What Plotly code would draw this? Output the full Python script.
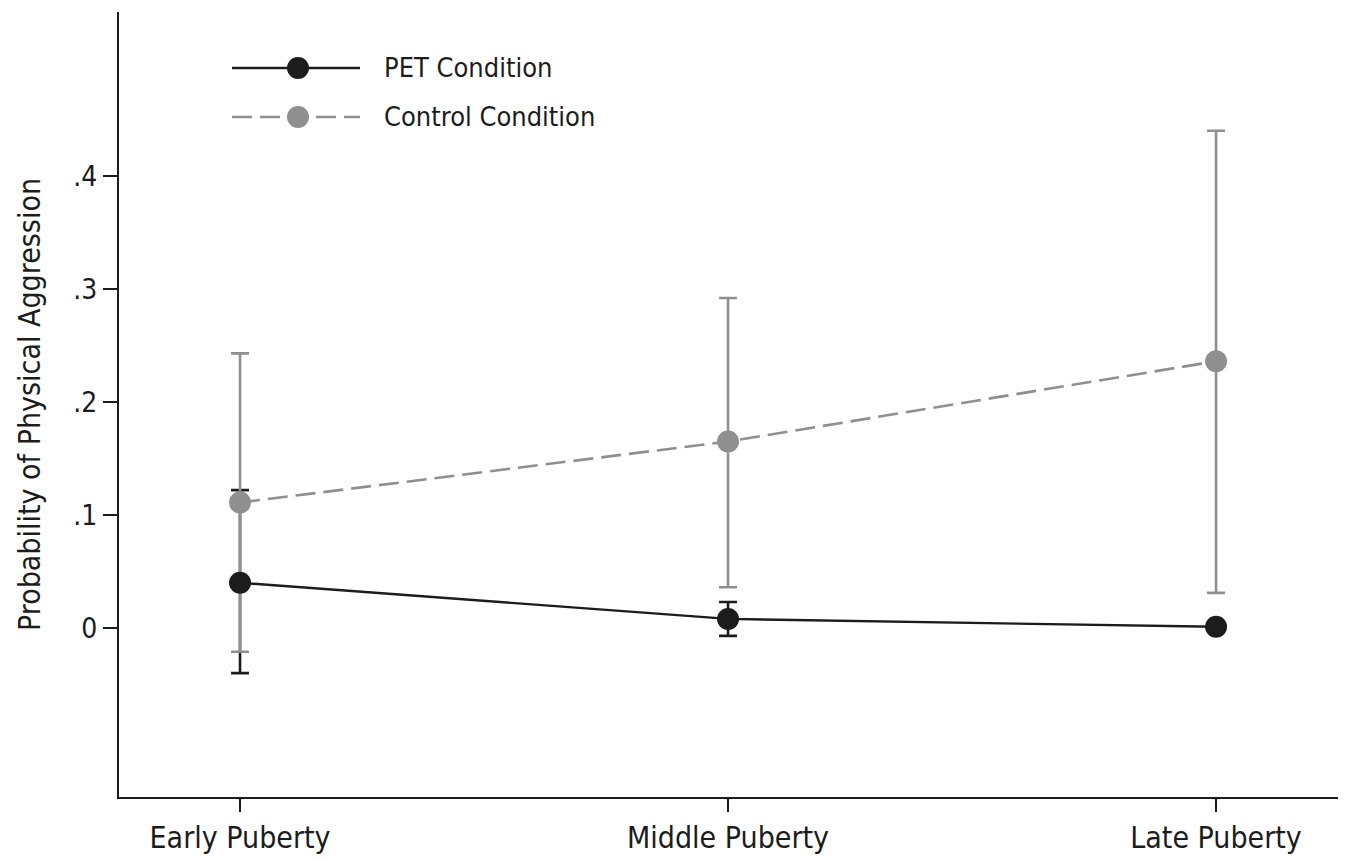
import plotly.graph_objects as go

categories = ["Early Puberty", "Middle Puberty", "Late Puberty"]
x_pos = [0, 1, 2]

pet_values = [0.040, 0.008, 0.001]
pet_upper = [0.122, 0.023, 0.003]
pet_lower = [-0.040, -0.007, -0.001]

control_values = [0.111, 0.165, 0.236]
control_upper = [0.243, 0.292, 0.440]
control_lower = [-0.021, 0.036, 0.031]

y_tickvals = [0, 0.1, 0.2, 0.3, 0.4]
y_ticktext = ["0", ".1", ".2", ".3", ".4"]

FONT = "Liberation Sans Narrow, DejaVu Sans Condensed, Arial Narrow, sans-serif"
BLACK = "#1c1c1c"
GRAY = "#8f8f8f"

def plus(v, u):
    return [a - b for a, b in zip(u, v)]

def minus(v, l):
    return [b - a for a, b in zip(l, v)]

fig = go.Figure()

# error bars (drawn beneath markers)
fig.add_trace(go.Scatter(
    x=x_pos, y=pet_values, mode="markers", marker=dict(size=1, opacity=0),
    error_y=dict(type="data", symmetric=False, array=plus(pet_values, pet_upper),
                 arrayminus=minus(pet_values, pet_lower), color=BLACK, thickness=2.6, width=9),
    showlegend=False, hoverinfo="skip"))
fig.add_trace(go.Scatter(
    x=x_pos, y=control_values, mode="markers", marker=dict(size=1, opacity=0),
    error_y=dict(type="data", symmetric=False, array=plus(control_values, control_upper),
                 arrayminus=minus(control_values, control_lower), color=GRAY, thickness=2.6, width=9),
    showlegend=False, hoverinfo="skip"))

fig.add_trace(go.Scatter(
    x=x_pos, y=control_values, mode="lines+markers", name="Control Condition",
    line=dict(color=GRAY, width=2.6, dash="20px,8px"),
    marker=dict(color=GRAY, size=22), showlegend=False))
fig.add_trace(go.Scatter(
    x=x_pos, y=pet_values, mode="lines+markers", name="PET Condition",
    line=dict(color=BLACK, width=2.4),
    marker=dict(color=BLACK, size=22), showlegend=False))

# page offset compensation (body margin)
OFF = 8
ML, MT, MR, MB = 119 - OFF, 12 - OFF, 6 + OFF, 64 + OFF

# manual legend (paper coordinates), positions in screen pixels
W, H = 1346.0 - ML - MR, 861.0 - MT - MB
L, T = 119.0, 12.0
def px(xp):
    return (xp - L) / W
def py(yp):
    return (T + H - yp) / H

legend_items = [("PET Condition", BLACK, "solid", 68), ("Control Condition", GRAY, "20px,8px", 117)]
shapes = []
annotations = []
for label, col, dash, ypix in legend_items:
    shapes.append(dict(type="line", xref="paper", yref="paper", x0=px(232), x1=px(360),
                       y0=py(ypix), y1=py(ypix), line=dict(color=col, width=2.6, dash=dash)))
    shapes.append(dict(type="circle", xref="paper", yref="paper", xsizemode="pixel", ysizemode="pixel",
                       xanchor=px(298), yanchor=py(ypix), x0=-11, x1=11, y0=-11, y1=11,
                       fillcolor=col, line=dict(color=col, width=0)))
    annotations.append(dict(text=label, xref="paper", yref="paper", x=px(382), y=py(ypix),
                            xanchor="left", yanchor="middle", showarrow=False,
                            font=dict(family=FONT, size=27, color=BLACK)))

fig.update_layout(
    width=1346, height=861,
    margin=dict(l=ML, r=MR, t=MT, b=MB),
    plot_bgcolor="white", paper_bgcolor="white",
    font=dict(family=FONT, color=BLACK),
    shapes=shapes, annotations=annotations,
    xaxis=dict(range=[-0.248, 2.254], tickvals=x_pos, ticktext=categories,
               showgrid=False, zeroline=False, showline=True, linecolor=BLACK, linewidth=2,
               ticks="outside", ticklen=13, tickwidth=2, tickcolor=BLACK,
               tickfont=dict(family=FONT, size=30, color=BLACK)),
    yaxis=dict(range=[-0.1496, 0.5451], tickvals=y_tickvals, ticktext=y_ticktext,
               showgrid=False, zeroline=False, showline=True, linecolor=BLACK, linewidth=2,
               ticks="outside", ticklen=14, tickwidth=2, tickcolor=BLACK,
               tickfont=dict(family=FONT, size=28, color=BLACK),
               title=dict(text="Probability of Physical Aggression", standoff=24,
                          font=dict(family=FONT, size=30, color=BLACK))),
)

fig.write_html("out.html")
